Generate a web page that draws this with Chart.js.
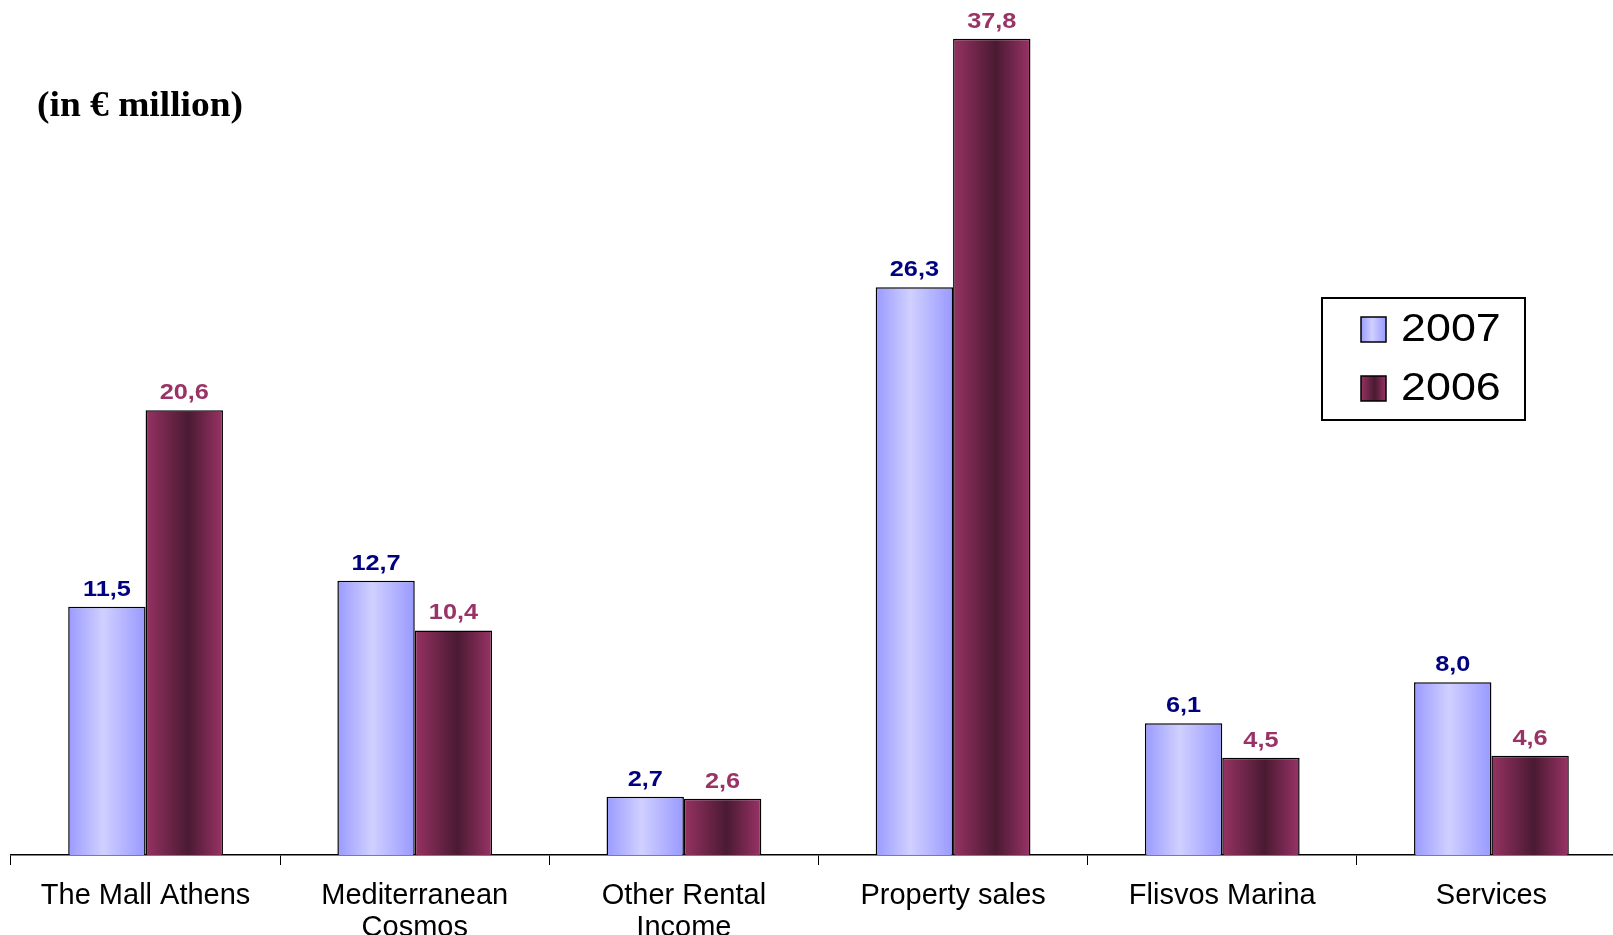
<!DOCTYPE html>
<html lang="en">
<head>
<meta charset="UTF-8">
<title>Revenues (in € million)</title>
<script src="https://cdn.jsdelivr.net/npm/chart.js"></script>
<style>
    html, body { margin: 0; padding: 0; background: #fff; overflow: hidden; }
    .wrap { position: relative; width: 1626px; height: 935px; }
</style>
</head>
<body>
<div class="wrap"><canvas id="revenueChart"></canvas></div>
<script>
// data
const categories = ['The Mall Athens', ['Mediterranean', 'Cosmos'], ['Other Rental', 'Income'], 'Property sales', 'Flisvos Marina', 'Services'];
const seriesNames = ['2007', '2006'];
const values2007 = [11.5, 12.7, 2.7, 26.3, 6.1, 8.0];
const values2006 = [20.6, 10.4, 2.6, 37.8, 4.5, 4.6];
const unitLabel = '(in € million)';

// styles
const CAT_PCT = 0.575;
const stops2007 = [[0, '#9a9aff'], [0.45, '#d0d0ff'], [1, '#9999ff']];
const stops2006 = [[0, '#963262'], [0.55, '#4a1a32'], [1, '#993366']];
const labelColors = ['#000080', '#993366'];
const SANS = '"Liberation Sans", Arial, sans-serif';

function fillFrom(ctx, stops, x0, x1) {
    const g = ctx.createLinearGradient(x0, 0, x1, 0);
    stops.forEach(s => g.addColorStop(s[0], s[1]));
    return g;
}

// gradient across each bar, positioned with the x scale
function barFill(stops, fallback) {
    return function (c) {
        const chart = c.chart;
        const xs = chart.scales && chart.scales.x;
        if (!chart.chartArea || !xs || c.dataIndex === undefined) return fallback;
        const catW = (xs.right - xs.left) / categories.length;
        const w = catW * CAT_PCT / 2;
        const left = xs.getPixelForValue(c.dataIndex) - catW * CAT_PCT / 2 + c.datasetIndex * w;
        return fillFrom(chart.ctx, stops, left, left + w);
    };
}

const extras = {
    id: 'extras',
    afterDatasetsDraw(chart) {
        const ctx = chart.ctx;
        chart.data.datasets.forEach((ds, di) => {
            chart.getDatasetMeta(di).data.forEach((bar, i) => {
                const txt = ds.data[i].toFixed(1).replace('.', ',');
                ctx.save();
                ctx.translate(bar.x, bar.y - 11);
                ctx.scale(1.15, 1);
                ctx.font = 'bold 22px ' + SANS;
                ctx.fillStyle = labelColors[di];
                ctx.textAlign = 'center';
                ctx.textBaseline = 'alphabetic';
                ctx.fillText(txt, 0, 0);
                ctx.restore();
            });
        });
    },
    afterDraw(chart) {
        const ctx = chart.ctx;
        // unit title
        ctx.save();
        ctx.translate(37, 107);
        ctx.scale(1.07, 1);
        ctx.font = 'bold 35px "Liberation Serif", "Times New Roman", serif';
        ctx.fillStyle = '#000';
        ctx.textAlign = 'left';
        ctx.textBaseline = 'middle';
        ctx.fillText(unitLabel, 0, 0);
        ctx.restore();

        // legend box
        ctx.save();
        ctx.strokeStyle = '#000';
        ctx.lineWidth = 2;
        ctx.fillStyle = '#fff';
        ctx.fillRect(1322, 298, 203, 122);
        ctx.strokeRect(1322, 298, 203, 122);
        const rows = [329, 388];
        const stops = [stops2007, stops2006];
        chart.data.datasets.forEach((ds, di) => {
            const cy = rows[di];
            ctx.fillStyle = fillFrom(ctx, stops[di], 1361, 1386);
            ctx.fillRect(1361, cy - 12, 25, 25);
            ctx.lineWidth = 1.5;
            ctx.strokeRect(1361, cy - 12, 25, 25);
            ctx.save();
            ctx.translate(1401, cy + 2);
            ctx.scale(1.18, 1);
            ctx.font = '38px ' + SANS;
            ctx.fillStyle = '#000';
            ctx.textAlign = 'left';
            ctx.textBaseline = 'middle';
            ctx.fillText(ds.label, 0, 0);
            ctx.restore();
        });
        ctx.restore();
    }
};

const chart = new Chart(document.getElementById('revenueChart'), {
    type: 'bar',
    data: {
        labels: categories,
        datasets: [{
            label: seriesNames[0],
            data: values2007,
            backgroundColor: barFill(stops2007, '#b3b3ff'),
            borderColor: '#000',
            borderWidth: 1.5,
            borderSkipped: 'bottom'
        }, {
            label: seriesNames[1],
            data: values2006,
            backgroundColor: barFill(stops2006, '#7a2a52'),
            borderColor: '#000',
            borderWidth: 1.5,
            borderSkipped: 'bottom'
        }]
    },
    options: {
        responsive: true,
        maintainAspectRatio: false,
        animation: false,
        layout: { padding: { left: 11, right: 0, top: 0, bottom: 0 } },
        datasets: { bar: { categoryPercentage: CAT_PCT, barPercentage: 1 } },
        plugins: {
            legend: { display: false },
            tooltip: { enabled: false }
        },
        scales: {
            x: {
                grid: { drawOnChartArea: false, drawTicks: true, tickLength: 10, color: '#000', lineWidth: 1 },
                border: { display: true, color: '#000', width: 1.5 },
                ticks: {
                    color: '#000',
                    padding: 15,
                    maxRotation: 0,
                    autoSkip: false,
                    font: { family: SANS, size: 29, lineHeight: 1.1 }
                },
                afterFit(scale) { scale.height = 80; }
            },
            y: {
                display: false,
                min: 0,
                max: 39.6
            }
        }
    },
    plugins: [extras]
});
</script>
</body>
</html>
